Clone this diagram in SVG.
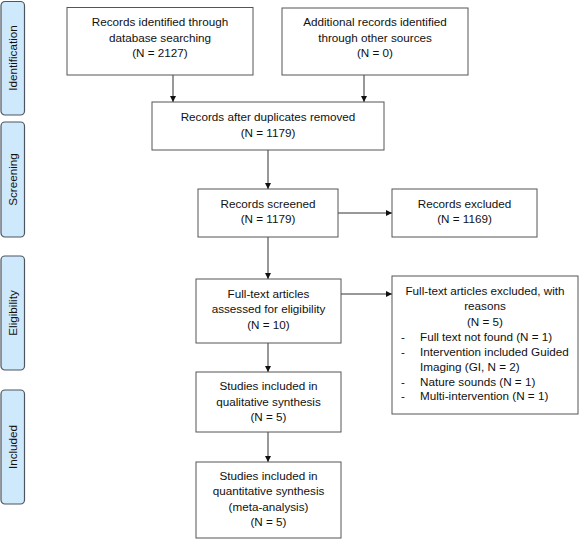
<svg xmlns="http://www.w3.org/2000/svg" width="580" height="539" viewBox="0 0 580 539">
<style>
.box{fill:#fff;stroke:#555;stroke-width:1}
.side{fill:#cfe9fc;stroke:#4d5660;stroke-width:1.2}
text{font-family:"Liberation Sans",Arial,sans-serif;font-size:11.7px;fill:#111}
.c{text-anchor:middle}
.lbl{font-size:11.7px;text-anchor:middle}
.con{stroke:#333;stroke-width:1;fill:none;marker-end:url(#ah)}
</style>
<defs>
<marker id="ah" viewBox="0 0 6 6" refX="6" refY="3" markerWidth="6" markerHeight="6" markerUnits="userSpaceOnUse" orient="auto">
<path d="M0,0 L6,3 L0,6 z" fill="#111"/>
</marker>
</defs>
<rect width="580" height="539" fill="#fff"/>
<g id="phase-identification">
<rect class="side" x="1" y="1.5" width="23.5" height="113.5" rx="4"/>
<text class="lbl" transform="translate(16.5,58) rotate(-90)">Identification</text>
</g>
<g id="phase-screening">
<rect class="side" x="1" y="122" width="23.5" height="115" rx="4"/>
<text class="lbl" transform="translate(16.5,179.5) rotate(-90)">Screening</text>
</g>
<g id="phase-eligibility">
<rect class="side" x="1" y="256" width="23.5" height="114" rx="4"/>
<text class="lbl" transform="translate(16.5,313) rotate(-90)">Eligibility</text>
</g>
<g id="phase-included">
<rect class="side" x="1" y="390" width="23.5" height="114" rx="4"/>
<text class="lbl" transform="translate(16.5,447) rotate(-90)">Included</text>
</g>
<g id="connectors">
<path class="con" d="M173,75 V102"/>
<path class="con" d="M364,75 V102"/>
<path class="con" d="M268,150 V189"/>
<path class="con" d="M338,213 H392"/>
<path class="con" d="M268,237 V279"/>
<path class="con" d="M341,294 H392"/>
<path class="con" d="M268,343 V372"/>
<path class="con" d="M268,432 V462"/>
</g>
<g id="n1">
<rect class="box" x="67" y="7.5" width="186" height="67.5"/>
<text class="c" x="160" y="26">Records identified through</text>
<text class="c" x="160" y="41.5">database searching</text>
<text class="c" x="160" y="57">(N = 2127)</text>
</g>
<g id="n2">
<rect class="box" x="282" y="8" width="186" height="67"/>
<text class="c" x="375" y="26">Additional records identified</text>
<text class="c" x="375" y="41.5">through other sources</text>
<text class="c" x="375" y="57">(N = 0)</text>
</g>
<g id="n3">
<rect class="box" x="152" y="102" width="232" height="48"/>
<text class="c" x="268" y="121">Records after duplicates removed</text>
<text class="c" x="268" y="136.5">(N = 1179)</text>
</g>
<g id="n4">
<rect class="box" x="198" y="189" width="140" height="48"/>
<text class="c" x="268" y="207.5">Records screened</text>
<text class="c" x="268" y="223">(N = 1179)</text>
</g>
<g id="n5">
<rect class="box" x="392" y="189" width="145" height="48"/>
<text class="c" x="464.5" y="207.5">Records excluded</text>
<text class="c" x="464.5" y="223">(N = 1169)</text>
</g>
<g id="n6">
<rect class="box" x="196" y="279" width="145" height="64"/>
<text class="c" x="268.5" y="297.5">Full-text articles</text>
<text class="c" x="268.5" y="313">assessed for eligibility</text>
<text class="c" x="268.5" y="328.5">(N = 10)</text>
</g>
<g id="n7">
<rect class="box" x="392" y="276" width="186" height="138"/>
<text class="c" x="485" y="295">Full-text articles excluded, with</text>
<text class="c" x="485" y="310">reasons</text>
<text class="c" x="485" y="325.5">(N = 5)</text>
<text x="401" y="341">-</text><text x="420" y="341">Full text not found (N = 1)</text>
<text x="401" y="356">-</text><text x="420" y="356">Intervention included Guided</text>
<text x="420" y="371">Imaging (GI, N = 2)</text>
<text x="401" y="386">-</text><text x="420" y="386">Nature sounds (N = 1)</text>
<text x="401" y="399.5">-</text><text x="420" y="399.5">Multi-intervention (N = 1)</text>
</g>
<g id="n8">
<rect class="box" x="196" y="372" width="145" height="60"/>
<text class="c" x="268.5" y="390">Studies included in</text>
<text class="c" x="268.5" y="405.5">qualitative synthesis</text>
<text class="c" x="268.5" y="421">(N = 5)</text>
</g>
<g id="n9">
<rect class="box" x="196" y="462" width="145" height="76"/>
<text class="c" x="268.5" y="480">Studies included in</text>
<text class="c" x="268.5" y="495">quantitative synthesis</text>
<text class="c" x="268.5" y="510.5">(meta-analysis)</text>
<text class="c" x="268.5" y="526">(N = 5)</text>
</g>
</svg>
